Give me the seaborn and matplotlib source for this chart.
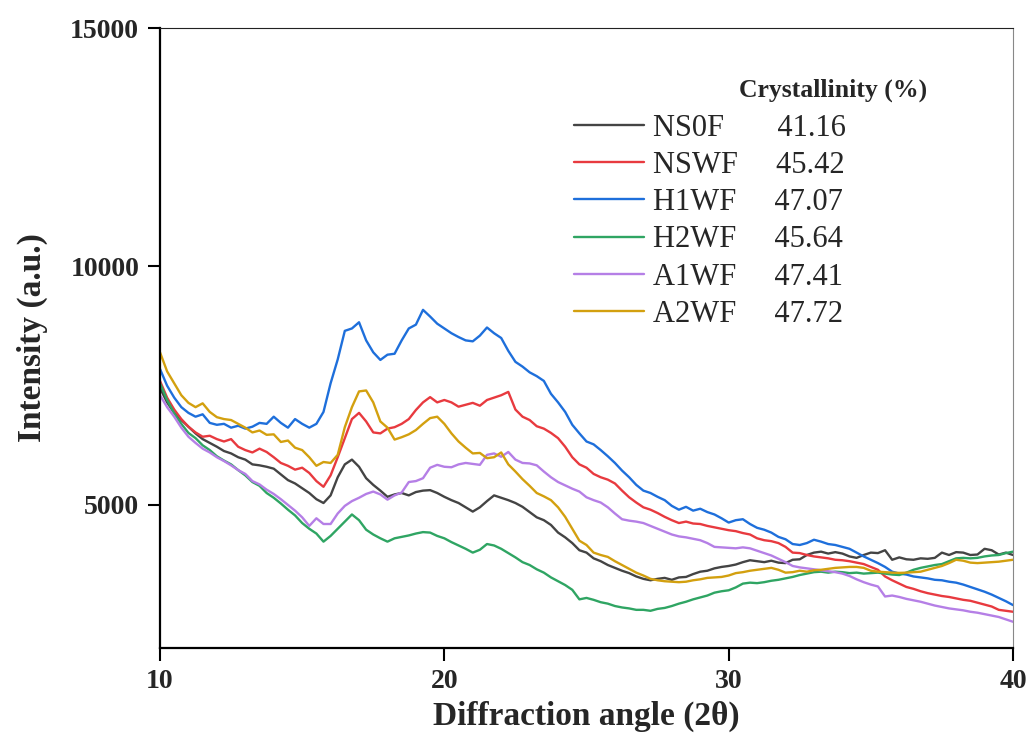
import numpy as np
import pandas as pd
import matplotlib
matplotlib.use("Agg")
import matplotlib.pyplot as plt
import seaborn as sns
from matplotlib.lines import Line2D

# ---------------- data (0.25 deg steps) ----------------
angle = [10.0 + 0.25 * i for i in range(121)]

ns0f = [7450, 7150, 6930, 6780, 6640, 6500, 6380, 6300, 6220, 6130, 6080, 6000, 5950, 5850, 5830, 5800,
        5760, 5640, 5520, 5450, 5350, 5250, 5120, 5040, 5200, 5580, 5850, 5950, 5800, 5560, 5420, 5300,
        5170, 5220, 5250, 5200, 5270, 5300, 5310, 5250, 5170, 5100, 5040, 4950, 4860, 4950, 5080, 5200,
        5150, 5100, 5040, 4960, 4850, 4740, 4680, 4580, 4420, 4320, 4200, 4050, 4000, 3880, 3820, 3740,
        3680, 3620, 3570, 3500, 3450, 3420, 3450, 3470, 3430, 3480, 3490, 3550, 3600, 3620, 3670, 3700,
        3720, 3750, 3800, 3840, 3820, 3800, 3830, 3790, 3780, 3850, 3860, 3950, 4000, 4020, 3980, 4010,
        3980, 3920, 3890, 3950, 4000, 3990, 4050, 3850, 3900, 3860, 3850, 3880, 3870, 3890, 4000, 3950,
        4010, 4000, 3950, 3960, 4080, 4050, 3960, 4000, 3950]

nswf = [7600, 7250, 7000, 6800, 6640, 6520, 6430, 6450, 6380, 6330, 6380, 6220, 6150, 6100, 6180, 6110,
        6000, 5880, 5820, 5740, 5780, 5670, 5500, 5380, 5620, 6000, 6400, 6800, 6930, 6750, 6520, 6500,
        6600, 6630, 6700, 6800, 6990, 7150, 7260, 7150, 7200, 7150, 7060, 7100, 7140, 7080, 7200, 7250,
        7300, 7370, 7000, 6850, 6780, 6650, 6600, 6510, 6400, 6220, 6000, 5850, 5780, 5650, 5580, 5530,
        5450, 5300, 5160, 5050, 4950, 4900, 4830, 4750, 4680, 4620, 4650, 4610, 4600, 4560, 4530, 4500,
        4470, 4450, 4410, 4380, 4300, 4260, 4240, 4200, 4120, 4000, 3990, 3950, 3920, 3900, 3880, 3850,
        3840, 3820, 3790, 3760, 3700, 3640, 3500, 3420, 3350, 3280, 3240, 3190, 3150, 3120, 3090, 3070,
        3040, 3010, 2990, 2950, 2910, 2870, 2800, 2780, 2760]

h1wf = [7850, 7500, 7250, 7050, 6930, 6850, 6900, 6720, 6680, 6700, 6620, 6660, 6600, 6640, 6720, 6700,
        6850, 6720, 6620, 6800, 6700, 6620, 6700, 6950, 7550, 8050, 8650, 8700, 8830, 8450, 8200, 8040,
        8150, 8170, 8450, 8700, 8780, 9090, 8950, 8800, 8700, 8600, 8520, 8450, 8430, 8550, 8720, 8600,
        8500, 8230, 8000, 7900, 7780, 7700, 7600, 7330, 7150, 6950, 6680, 6500, 6330, 6270, 6150, 6020,
        5880, 5720, 5580, 5420, 5300, 5250, 5170, 5100, 4980, 4900, 4960, 4880, 4920, 4850, 4800, 4720,
        4630, 4680, 4700, 4600, 4520, 4480, 4420, 4330, 4280, 4180, 4160, 4200, 4270, 4230, 4180, 4160,
        4120, 4080, 4000, 3920, 3850, 3780, 3700, 3600, 3560, 3540, 3500, 3480, 3460, 3430, 3420, 3390,
        3370, 3330, 3280, 3230, 3180, 3120, 3050, 2980, 2900]

h2wf = [7550, 7200, 6920, 6700, 6510, 6400, 6250, 6150, 6020, 5930, 5850, 5730, 5620, 5480, 5400, 5250,
        5150, 5030, 4900, 4780, 4620, 4500, 4400, 4230, 4350, 4500, 4650, 4800, 4680, 4480, 4380, 4300,
        4230, 4300, 4330, 4360, 4400, 4430, 4420, 4350, 4300, 4220, 4150, 4080, 4000, 4060, 4180, 4150,
        4080, 3990, 3900, 3800, 3740, 3650, 3580, 3480, 3400, 3320, 3220, 3020, 3050, 3010, 2960, 2930,
        2880, 2850, 2830, 2800, 2800, 2780, 2820, 2840, 2880, 2930, 2970, 3020, 3060, 3100, 3160, 3190,
        3210, 3270, 3350, 3370, 3360, 3380, 3410, 3430, 3460, 3490, 3530, 3560, 3590, 3600, 3580, 3600,
        3590, 3570, 3580, 3560, 3570, 3580, 3560, 3540, 3530, 3580, 3640, 3680, 3710, 3740, 3760, 3820,
        3880, 3890, 3880, 3890, 3920, 3940, 3950, 3990, 4020]

a1wf = [7300, 7050, 6850, 6620, 6430, 6300, 6180, 6100, 6000, 5920, 5830, 5730, 5650, 5500, 5430, 5320,
        5230, 5120, 5000, 4880, 4740, 4560, 4720, 4600, 4600, 4820, 4980, 5080, 5150, 5230, 5280, 5220,
        5110, 5200, 5260, 5480, 5500, 5560, 5780, 5840, 5800, 5790, 5850, 5880, 5860, 5840, 6050, 6080,
        6010, 6110, 5950, 5880, 5870, 5830, 5700, 5580, 5480, 5410, 5340, 5280, 5160, 5100, 5050, 4950,
        4820, 4700, 4670, 4650, 4620, 4560, 4500, 4440, 4380, 4340, 4320, 4290, 4260, 4200, 4120, 4110,
        4100, 4090, 4110, 4090, 4040, 3990, 3940, 3870, 3800, 3720, 3690, 3670, 3650, 3630, 3610, 3590,
        3560, 3510, 3440, 3380, 3330, 3290, 3080, 3100, 3070, 3030, 3000, 2970, 2930, 2890, 2860, 2830,
        2810, 2790, 2760, 2740, 2710, 2680, 2650, 2600, 2550]

a2wf = [8200, 7800, 7550, 7300, 7140, 7050, 7130, 6950, 6840, 6800, 6780, 6700, 6620, 6520, 6560, 6470,
        6480, 6320, 6350, 6200, 6150, 6000, 5820, 5900, 5880, 6050, 6630, 7050, 7380, 7400, 7150, 6750,
        6620, 6370, 6420, 6480, 6570, 6700, 6820, 6850, 6700, 6500, 6330, 6200, 6080, 6090, 5980, 6000,
        6100, 5850, 5700, 5540, 5400, 5250, 5180, 5100, 4950, 4750, 4500, 4250, 4160, 4000, 3950, 3910,
        3820, 3740, 3660, 3580, 3520, 3450, 3420, 3400, 3390, 3380, 3390, 3420, 3440, 3470, 3480, 3490,
        3520, 3570, 3590, 3620, 3640, 3660, 3680, 3640, 3580, 3590, 3620, 3600, 3630, 3640, 3660, 3680,
        3690, 3700, 3700, 3680, 3620, 3600, 3590, 3580, 3575, 3580, 3590, 3600, 3640, 3680, 3720, 3780,
        3850, 3830, 3790, 3780, 3790, 3800, 3810, 3830, 3850]

samples = ["NS0F", "NSWF", "H1WF", "H2WF", "A1WF", "A2WF"]
crystallinity = ["41.16", "45.42", "47.07", "45.64", "47.41", "47.72"]
x_ticks = [10, 20, 30, 40]
y_ticks = [5000, 10000, 15000]

colors = ["#444444", "#e83a3f", "#1e6fdb", "#2fa563", "#b57fe6", "#d3a00f"]

series = [ns0f, nswf, h1wf, h2wf, a1wf, a2wf]
frames = [pd.DataFrame({"angle": angle, "intensity": s, "sample": n}) for n, s in zip(samples, series)]
df = pd.concat(frames, ignore_index=True)

# ---------------- style ----------------
sns.set_theme(style="white")
plt.rcParams["font.family"] = ["Liberation Serif", "DejaVu Serif"]

fig = plt.figure(figsize=(10.29, 7.42), dpi=100)
ax = fig.add_axes([160 / 1029, 1 - 648 / 742, (1013 - 160) / 1029, (648 - 28) / 742])

sns.lineplot(data=df, x="angle", y="intensity", hue="sample", hue_order=samples,
             palette=colors, estimator=None, linewidth=1.7, ax=ax, legend=False)

ax.set_xlim(10, 40)
ax.set_ylim(2000, 15000)
ax.set_xticks(x_ticks)
ax.set_yticks(y_ticks)
ax.set_xticklabels([str(t) for t in x_ticks], fontsize=20, fontweight="bold")
ax.set_yticklabels([str(t) for t in y_ticks], fontsize=20, fontweight="bold")

ax.tick_params(axis="both", which="major", direction="out", length=9, width=1.5,
               color="black", bottom=True, left=True, top=False, right=False)
ax.tick_params(axis="x", pad=6)
ax.tick_params(axis="y", pad=6)

for side in ["left", "bottom"]:
    ax.spines[side].set_linewidth(1.6)
    ax.spines[side].set_color("black")
ax.spines["top"].set_linewidth(0.8)
ax.spines["top"].set_color("#222222")
ax.spines["right"].set_linewidth(0.8)
ax.spines["right"].set_color("#888888")

ax.set_xlabel("Diffraction angle (2θ)", fontsize=24, fontweight="bold", labelpad=5)
ax.set_ylabel("Intensity (a.u.)", fontsize=24, fontweight="bold", labelpad=16)

# ---------------- legend ----------------
pads = {"NS0F": 7, "NSWF": 5, "H1WF": 5, "H2WF": 5, "A1WF": 5, "A2WF": 5}
handles = [Line2D([0], [0], color=c, lw=1.7) for c in colors]
labels = [f"{n}{' ' * pads[n]}{v}" for n, v in zip(samples, crystallinity)]
ax.legend(handles, labels, loc="upper left", bbox_to_anchor=(0.485, 0.862),
          frameon=False, fontsize=22, handlelength=2.3, handletextpad=0.3,
          labelspacing=0.27, borderpad=0, borderaxespad=0)
ax.text(0.679, 0.90, "Crystallinity (%)", transform=ax.transAxes,
        fontsize=18.5, fontweight="bold", ha="left", va="center")

fig.savefig("out.png", dpi=100)
